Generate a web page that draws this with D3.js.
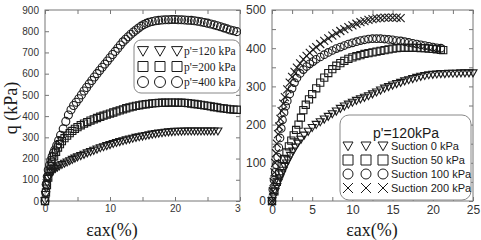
<!DOCTYPE html>
<html>
<head>
<meta charset="utf-8">
<script src="https://cdn.jsdelivr.net/npm/d3@7"></script>
<style>
  body { margin: 0; background: #fff; }
  svg { display: block; }
</style>
</head>
<body>
<svg id="chart" width="481" height="240"></svg>
<script>
// ---- left panel data: q (kPa) vs axial strain (%) for three confining pressures
const leftTri = [[0,0],[0.1,30],[0.2,60],[0.35,85],[0.5,105],[0.7,120],[0.9,132],[1.1,140],[1.3,146],[1.6,153],[1.9,159],[2.2,165],[2.6,171],[3.0,177],[3.4,183],[3.8,189],[4.2,195],[4.6,201],[5.0,207],[5.5,213],[6.0,219],[6.5,226],[7.0,232],[7.5,238],[8.0,244],[8.5,250],[9.0,255],[9.5,260],[10.0,265],[10.5,270],[11.0,275],[11.5,279],[12.0,283],[12.5,287],[13.0,291],[13.5,295],[14.0,299],[14.5,302],[15.0,305],[15.5,308],[16.0,311],[16.5,314],[17.0,317],[17.5,319],[18.0,321],[18.5,323],[19.0,325],[19.5,326],[20.0,327],[20.5,328],[21.0,328],[21.5,329],[22.0,329],[22.5,329],[23.0,329],[23.5,329],[24.0,329],[24.5,329],[25.0,329],[25.5,329],[26.0,329],[26.6,329]];
const leftSq = [[0,0],[0.15,40],[0.3,75],[0.5,110],[0.7,140],[0.9,165],[1.1,185],[1.4,210],[1.7,232],[2.0,252],[2.3,268],[2.6,282],[3.0,296],[3.4,308],[3.8,320],[4.2,330],[4.6,340],[5.0,348],[5.5,357],[6.0,365],[6.5,372],[7.0,379],[7.5,385],[8.0,391],[8.5,397],[9.0,402],[9.5,407],[10.0,412],[10.5,417],[11.0,422],[11.5,427],[12.0,432],[12.5,437],[13.0,441],[13.5,445],[14.0,448],[14.5,451],[15.0,454],[15.5,456],[16.0,458],[16.5,460],[17.0,461],[17.5,462],[18.0,463],[18.5,463],[19.0,464],[19.5,464],[20.0,464],[20.5,463],[21.0,463],[21.5,462],[22.0,461],[22.5,459],[23.0,457],[23.5,455],[24.0,453],[24.5,451],[25.0,448],[25.5,446],[26.0,443],[26.5,441],[27.0,438],[27.5,436],[28.0,434],[28.5,432],[29.0,431],[29.5,430]];
const leftCirc = [[0,0],[0.1,40],[0.2,80],[0.35,115],[0.5,146],[0.7,170],[0.9,192],[1.1,210],[1.3,226],[1.5,240],[1.8,262],[2.1,285],[2.4,310],[2.8,340],[3.2,375],[3.6,405],[4.0,430],[4.4,450],[4.8,465],[5.2,482],[5.6,500],[6.0,518],[6.4,535],[6.8,552],[7.2,568],[7.6,584],[8.0,600],[8.4,615],[8.8,630],[9.2,645],[9.6,660],[10.0,675],[10.4,690],[10.8,705],[11.2,720],[11.6,735],[12.0,750],[12.4,762],[12.8,774],[13.2,786],[13.6,796],[14.0,806],[14.4,815],[14.8,824],[15.2,831],[15.6,837],[16.0,842],[16.5,846],[17.0,849],[17.5,851],[18.0,853],[18.5,854],[19.0,854],[19.5,855],[20.0,855],[20.5,854],[21.0,854],[21.5,853],[22.0,852],[22.5,851],[23.0,849],[23.5,847],[24.0,844],[24.5,841],[25.0,838],[25.5,834],[26.0,830],[26.5,826],[27.0,821],[27.5,816],[28.0,811],[28.5,806],[29.0,802],[29.5,798]];
const leftLegend = ["p'=120 kPa", "p'=200 kPa", "p'=400 kPa"];

// ---- right panel data: p'=120kPa at four suctions
const rightTri = [[0,0],[0.2,12],[0.4,25],[0.6,37],[0.8,49],[1.0,60],[1.2,70],[1.4,80],[1.6,90],[1.8,99],[2.0,107],[2.3,119],[2.6,130],[2.9,141],[3.2,151],[3.6,161],[4.0,172],[4.5,182],[5.0,192],[5.5,200],[6.0,207],[6.5,214],[7.0,221],[7.5,228],[8.0,235],[8.5,242],[9.0,248],[9.5,253],[10.0,258],[10.5,263],[11.0,267],[11.5,271],[12.0,275],[12.5,280],[13.0,285],[13.5,290],[14.0,295],[14.5,299],[15.0,303],[15.5,307],[16.0,310],[16.5,314],[17.0,317],[17.5,320],[18.0,323],[18.5,326],[19.0,328],[19.5,330],[20.0,331],[20.5,332],[21.0,333],[21.5,333],[22.0,334],[22.5,334],[23.0,334],[23.5,335],[24.0,335],[24.5,335],[25.0,335]];
const rightSq = [[0,0],[0.3,25],[0.6,50],[0.9,72],[1.2,92],[1.5,110],[1.8,127],[2.1,143],[2.4,158],[2.7,172],[3.0,186],[3.3,200],[3.6,218],[3.9,238],[4.2,252],[4.6,266],[5.0,280],[5.5,295],[6.0,310],[6.5,323],[7.0,335],[7.5,345],[8.0,354],[8.5,361],[9.0,367],[9.5,372],[10.0,376],[10.5,379],[11.0,382],[11.5,385],[12.0,387],[12.5,389],[13.0,391],[13.5,393],[14.0,395],[14.5,397],[15.0,399],[15.5,400],[16.0,401],[16.5,401],[17.0,401],[17.5,401],[18.0,401],[18.5,400],[19.0,400],[19.5,399],[20.0,398],[20.5,397],[21.0,396],[21.3,395]];
const rightCirc = [[0,0],[0.1,30],[0.25,55],[0.4,75],[0.55,95],[0.7,115],[0.85,140],[1.0,165],[1.15,190],[1.3,212],[1.5,232],[1.7,248],[1.9,262],[2.2,280],[2.5,295],[2.8,310],[3.1,322],[3.5,334],[3.9,344],[4.3,352],[4.7,359],[5.1,365],[5.5,371],[6.0,377],[6.5,383],[7.0,389],[7.5,394],[8.0,399],[8.5,403],[9.0,407],[9.5,411],[10.0,414],[10.5,417],[11.0,420],[11.5,422],[12.0,424],[12.5,425],[13.0,425],[13.5,425],[14.0,424],[14.5,423],[15.0,422],[15.5,420],[16.0,419],[16.5,417],[17.0,415],[17.5,413],[18.0,411],[18.5,409],[19.0,407],[19.5,405],[20.0,403],[20.5,401],[21.0,400]];
const rightX = [[0,0],[0.1,25],[0.2,50],[0.3,75],[0.4,100],[0.5,125],[0.6,150],[0.75,175],[0.9,195],[1.05,215],[1.2,235],[1.4,255],[1.6,272],[1.9,292],[2.2,310],[2.5,325],[2.8,338],[3.1,349],[3.5,360],[3.9,371],[4.3,380],[4.7,388],[5.1,396],[5.5,403],[6.0,411],[6.5,419],[7.0,426],[7.5,433],[8.0,439],[8.5,445],[9.0,450],[9.5,455],[10.0,460],[10.5,464],[11.0,468],[11.5,471],[12.0,474],[12.5,476],[13.0,478],[13.5,479],[14.0,480],[14.5,480],[15.0,480],[15.5,480],[16.0,479]];
const rightLegend = ['Suction 0 kPa', 'Suction 50 kPa', 'Suction 100 kPa', 'Suction 200 kPa'];

const leftXTicks = [0, 10, 20, 30];
const leftYTicks = [0, 100, 200, 300, 400, 500, 600, 700, 800, 900];
const rightXTicks = [0, 5, 10, 15, 20, 25];
const rightYTicks = [0, 100, 200, 300, 400, 500];

const INK = '#1a1a1a';
const FRAME = '#777';

// marker path builders (h = half size)
const MARKERS = {
    tri: h => `M${-h},${-h * 0.8}L${h},${-h * 0.8}L0,${h * 0.95}Z`,
    sq: h => `M${-h},${-h}H${h}V${h}H${-h}Z`,
    circ: h => `M${h},0A${h},${h} 0 1,1 ${-h},0A${h},${h} 0 1,1 ${h},0`,
    x: h => `M${-h},${-h}L${h},${h}M${-h},${h}L${h},${-h}`
};

const svg = d3.select('#chart');
// the left figure is cut off where the right one begins
svg.append('clipPath').attr('id', 'leftClip')
    .append('rect').attr('x', 0).attr('y', 0).attr('width', 241).attr('height', 240);

function panel(opt) {
    const x = d3.scaleLinear().domain(opt.xDomain).range([opt.left, opt.right]);
    const y = d3.scaleLinear().domain(opt.yDomain).range([opt.bottom, opt.top]);
    const g = opt.parent.append('g');

    // inward ticks on all four sides
    const tick = (axis, pos, minorVals, majorVals) => {
        const a = axis.tickValues(minorVals).tickSizeInner(-opt.tickLen).tickSizeOuter(0)
            .tickFormat(d => majorVals.includes(d) && opt.labelSides.includes(pos) ? d : '');
        const gg = g.append('g').call(a);
        gg.select('.domain').remove();
        gg.selectAll('line').attr('stroke', FRAME);
        gg.selectAll('text').attr('fill', '#333')
            .style('font-family', 'Liberation Sans, Arial, sans-serif')
            .style('font-size', opt.fontSize + 'px');
        return gg;
    };
    const xMinor = d3.range(opt.xDomain[0], opt.xDomain[1] + 0.001, opt.xMinor);
    const yMinor = d3.range(opt.yDomain[0], opt.yDomain[1] + 0.001, opt.yMinor);
    const bx = tick(d3.axisBottom(x), 'b', xMinor, opt.xTicks).attr('transform', `translate(0,${opt.bottom})`);
    bx.selectAll('text').attr('dy', '0.9em').attr('y', 2);
    tick(d3.axisTop(x), 't', xMinor, opt.xTicks).attr('transform', `translate(0,${opt.top})`);
    const ly = tick(d3.axisLeft(y), 'l', yMinor, opt.yTicks).attr('transform', `translate(${opt.left},0)`);
    ly.selectAll('text').attr('x', -opt.tickLen - 2);
    tick(d3.axisRight(y), 'r', yMinor, opt.yTicks).attr('transform', `translate(${opt.right},0)`);

    g.append('rect')
        .attr('x', opt.left).attr('y', opt.top)
        .attr('width', opt.right - opt.left).attr('height', opt.bottom - opt.top)
        .attr('fill', 'none').attr('stroke', FRAME).attr('stroke-width', 1);

    opt.series.forEach(s => {
        g.append('g').selectAll('path')
            .data(s.data)
            .join('path')
            .attr('transform', d => `translate(${x(d[0])},${y(d[1])})`)
            .attr('d', MARKERS[s.shape](s.size))
            .attr('fill', 'none')
            .attr('stroke', INK)
            .attr('stroke-width', 1.1);
    });
    return { g, x, y };
}

const leftRoot = svg.append('g').attr('clip-path', 'url(#leftClip)');

const L = panel({
    parent: leftRoot,
    left: 45, right: 240, top: 10, bottom: 201,
    xDomain: [0, 30], yDomain: [0, 900],
    xTicks: leftXTicks, yTicks: leftYTicks, xMinor: 5, yMinor: 100,
    labelSides: ['b', 'l'], tickLen: 4, fontSize: 10,
    series: [
        { data: leftTri, shape: 'tri', size: 4 },
        { data: leftSq, shape: 'sq', size: 3.6 },
        { data: leftCirc, shape: 'circ', size: 4 }
    ]
});

const R = panel({
    parent: svg,
    left: 272, right: 473, top: 10, bottom: 201,
    xDomain: [0, 25], yDomain: [0, 500],
    xTicks: rightXTicks, yTicks: rightYTicks, xMinor: 2.5, yMinor: 50,
    labelSides: ['b', 'l'], tickLen: 4, fontSize: 12,
    series: [
        { data: rightTri, shape: 'tri', size: 4 },
        { data: rightSq, shape: 'sq', size: 3.6 },
        { data: rightCirc, shape: 'circ', size: 3.8 },
        { data: rightX, shape: 'x', size: 4 }
    ]
});

// axis titles
svg.append('text')
    .attr('transform', 'translate(17,108) rotate(-90)')
    .attr('text-anchor', 'middle')
    .style('font-family', 'Liberation Serif, Times New Roman, serif')
    .style('font-size', '18px')
    .attr('fill', INK)
    .text('q (kPa)');
[112, 372].forEach(cx => {
    svg.append('text')
        .attr('x', cx).attr('y', 236)
        .attr('text-anchor', 'middle')
        .style('font-family', 'Liberation Serif, Times New Roman, serif')
        .style('font-size', '18px')
        .attr('fill', INK)
        .text('εax(%)');
});

// left legend
const lg = leftRoot.append('g');
lg.append('rect').attr('x', 134).attr('y', 40).attr('width', 106).attr('height', 53)
    .attr('rx', 7).attr('fill', '#fff').attr('stroke', '#888');
['tri', 'sq', 'circ'].forEach((shape, i) => {
    const cy = 51 + i * 15.5;
    [143, 160, 177].forEach(cx => {
        lg.append('path').attr('transform', `translate(${cx},${cy})`)
            .attr('d', MARKERS[shape](shape === 'sq' ? 5 : 5.5))
            .attr('fill', 'none').attr('stroke', INK).attr('stroke-width', 1);
    });
    lg.append('text').attr('x', 184).attr('y', cy + 4)
        .style('font-family', 'Liberation Serif, Times New Roman, serif')
        .style('font-size', '11.5px').attr('fill', INK)
        .text(leftLegend[i]);
});

// right legend
const rg = svg.append('g');
rg.append('rect').attr('x', 340).attr('y', 115).attr('width', 131).attr('height', 85)
    .attr('rx', 9).attr('fill', '#fff').attr('stroke', '#888');
rg.append('text').attr('x', 406).attr('y', 138).attr('text-anchor', 'middle')
    .style('font-family', 'Liberation Sans, Arial, sans-serif')
    .style('font-size', '14px').attr('fill', INK)
    .text("p'=120kPa");
['tri', 'sq', 'circ', 'x'].forEach((shape, i) => {
    const cy = 146 + i * 14;
    [348, 366, 383].forEach(cx => {
        rg.append('path').attr('transform', `translate(${cx},${cy})`)
            .attr('d', MARKERS[shape](5))
            .attr('fill', 'none').attr('stroke', INK).attr('stroke-width', 1);
    });
    rg.append('text').attr('x', 391).attr('y', cy + 4)
        .style('font-family', 'Liberation Sans, Arial, sans-serif')
        .style('font-size', '11px').attr('fill', INK)
        .text(rightLegend[i]);
});
</script>
</body>
</html>
